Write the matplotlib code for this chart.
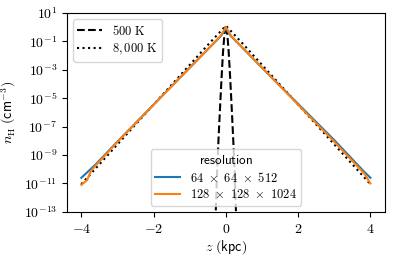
import numpy as np
import matplotlib
matplotlib.use('Agg')
import matplotlib.pyplot as plt
from matplotlib.ticker import FixedLocator, NullLocator, FuncFormatter

plt.rcParams['mathtext.fontset'] = 'cm'
plt.rcParams['font.size'] = 10

# 500 K initial profile (log10 n_H)
z_cold = [-0.32, -0.28, -0.24, -0.2, -0.16, -0.12, -0.08, -0.04, 0.0,
          0.04, 0.08, 0.12, 0.16, 0.2, 0.24, 0.28, 0.32]
logn_cold = [-16.0, -13.0, -10.0, -7.7, -5.6, -3.6, -1.8, -0.5, 0.15,
             -0.5, -1.8, -3.6, -5.6, -7.7, -10.0, -13.0, -16.0]

# 8,000 K initial profile
z_warm = [-4.0, -3.0, -2.0, -1.0, -0.5, -0.15, 0.0, 0.15, 0.5, 1.0, 2.0, 3.0, 4.0]
logn_warm = [-11.05, -8.25, -5.45, -2.65, -1.25, -0.3, 0.1, -0.3, -1.25,
             -2.65, -5.45, -8.25, -11.05]

# simulation results, two resolutions
z_lo = [-4.0, -3.6, -3.0, -2.0, -1.0, -0.15, -0.05, 0.0, 0.05, 0.15,
        1.0, 2.0, 3.0, 3.8, 4.0]
logn_lo = [-10.6, -9.65, -8.05, -5.45, -2.85, -0.65, -0.3, -0.1, -0.3, -0.65,
           -2.85, -5.4, -7.95, -10.1, -10.6]

z_hi = [-4.0, -3.84, -3.73, -3.0, -2.0, -1.0, -0.15, -0.05, 0.0, 0.05, 0.15,
        1.0, 2.0, 3.0, 3.7, 3.83, 4.0]
logn_hi = [-11.1, -10.76, -10.1, -8.07, -5.46, -2.85, -0.63, -0.2, 0.0, -0.2, -0.63,
           -2.85, -5.46, -8.07, -9.95, -10.3, -11.0]

fig = plt.figure(figsize=(3.98, 2.6), dpi=100)
ax = fig.add_axes([0.168, 0.185, 0.799, 0.765])

l1, = ax.plot(z_cold, 10**np.array(logn_cold), 'k--', label=r'$500\ \mathrm{K}$')
l2, = ax.plot(z_warm, 10**np.array(logn_warm), 'k:', label=r'$8,000\ \mathrm{K}$')
l3, = ax.plot(z_lo, 10**np.array(logn_lo), color='tab:blue',
              label=r'$64\ \times\ 64\ \times\ 512$')
l4, = ax.plot(z_hi, 10**np.array(logn_hi), color='tab:orange',
              label=r'$128\ \times\ 128\ \times\ 1024$')

ax.set_yscale('log')
ax.set_ylim(1e-13, 1e1)
ax.set_xlim(-4.4, 4.4)
ax.yaxis.set_major_locator(FixedLocator([10.0**k for k in range(-13, 2, 2)]))
ax.yaxis.set_major_formatter(FuncFormatter(lambda v, p: r'$10^{%d}$' % round(np.log10(v))))
ax.yaxis.set_minor_locator(NullLocator())
ax.set_xticks([-4, -2, 0, 2, 4])
ax.xaxis.set_major_formatter(FuncFormatter(lambda v, p: r'$%d$' % round(v)))

ax.set_xlabel(r'$z\ \mathsf{(kpc)}$', labelpad=2)
ax.set_ylabel(r'$n_{\rm H}\ \mathsf{(cm^{-3})}$')

leg1 = ax.legend(handles=[l1, l2], loc='upper left', fontsize=9,
                 labelspacing=0.35, borderpad=0.35)
ax.add_artist(leg1)
ax.legend(handles=[l3, l4], loc='lower center', fontsize=9, labelspacing=0.3,
          borderpad=0.35, title=r'$\mathsf{resolution}$', title_fontsize=9.5)

fig.savefig('out.png', dpi=100)
